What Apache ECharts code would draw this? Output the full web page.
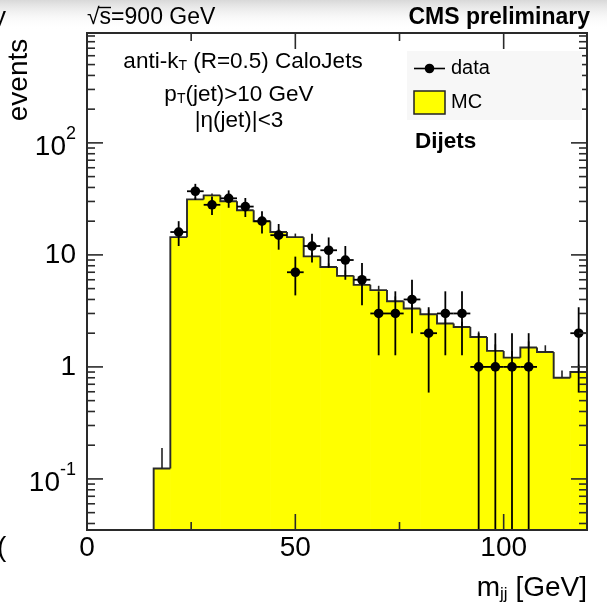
<!DOCTYPE html>
<html>
<head>
<meta charset="utf-8">
<script src="https://cdn.jsdelivr.net/npm/echarts@6/dist/echarts.min.js"></script>
<style>
  html, body { margin: 0; padding: 0; background: #fff; }
  #chart { width: 607px; height: 605px; }
</style>
</head>
<body>
<div id="chart"></div>
<script>
// Dijet invariant mass, 4 GeV bins (lower bin edges)
const binLow = [16, 20, 24, 28, 32, 36, 40, 44, 48, 52, 56, 60, 64, 68, 72, 76, 80, 84, 88, 92, 96, 100, 104, 108, 112, 116];
const BIN_WIDTH = 4;

// Simulation (MC) expectation per bin and its statistical uncertainty
const mcEvents = [0.124, 14.4, 31.3, 34.0, 30.1, 25.0, 19.9, 16.0, 14.4, 9.7, 7.8, 6.5, 5.4, 4.85, 3.86, 3.32, 2.95, 2.44, 2.27, 1.85, 1.39, 1.21, 1.49, 1.36, 0.80, 0.90];
const mcErrors = [0.065, 0.9, 1.3, 1.4, 1.3, 1.2, 1.0, 0.9, 1.1, 0.7, 0.6, 0.8, 0.5, 0.45, 0.4, 0.35, 0.3, 0.28, 0.26, 0.22, 0.2, 0.18, 0.2, 0.2, 0.13, 0.15];

// Observed events per bin and their errors
const dataEvents = [0, 16, 37, 28, 32, 27, 20, 15, 7, 12, 11, 9, 6, 3, 3, 4, 2, 3, 3, 1, 1, 1, 1, 0, 0, 2];
const dataErrors = [0, 4.0, 6.08, 5.29, 5.66, 5.2, 4.47, 3.87, 2.65, 3.46, 3.32, 3.0, 2.45, 1.73, 1.73, 2.0, 1.41, 1.73, 1.73, 1.0, 1.0, 1.0, 1.0, 0, 0, 1.41];

// Axis ranges and ticks
const X_MIN = 0, X_MAX = 120;
const Y_MIN = 0.035, Y_MAX = 957;
const xLabels = [0, 50, 100];
const xMinorTicks = [25, 75];
const yDecades = [0.1, 1, 10, 100];

const FONT = '"Liberation Sans", Arial, Helvetica, sans-serif';
const INK = '#000';
const FRAME = '#2a2a2a';

// log-axis minor ticks at 2..9 x 10^n
const yMinorTicks = [];
[0.01, 0.1, 1, 10, 100].forEach(d => {
  for (let k = 2; k <= 9; k++) {
    const v = +(k * d).toPrecision(3);
    if (v > Y_MIN && v < Y_MAX) yMinorTicks.push(v);
  }
});

const histItems = binLow.map((lo, i) => [lo, mcEvents[i], lo + BIN_WIDTH, i > 0 ? mcEvents[i - 1] : Y_MIN]);
const mcErrItems = binLow.map((lo, i) => [lo + BIN_WIDTH / 2, mcEvents[i], mcErrors[i]]);
const dataItems = binLow
  .map((lo, i) => [lo + BIN_WIDTH / 2, dataEvents[i], dataErrors[i]])
  .filter(d => d[1] > 0);

const tickItems = [[X_MIN, Y_MIN, 2, 0]];
xLabels.forEach(v => { if (v > X_MIN) tickItems.push([v, Y_MIN, 0, 16]); });
xMinorTicks.forEach(v => tickItems.push([v, Y_MIN, 0, 8]));
yDecades.forEach(v => tickItems.push([X_MIN, v, 1, 16]));
yMinorTicks.forEach(v => tickItems.push([X_MIN, v, 1, 8]));

function yLabel(value) {
  const lg = Math.log10(value);
  const e = Math.round(lg);
  if (Math.abs(lg - e) > 1e-6) return '';
  if (e === 0) return '1';
  if (e === 1) return '10';
  return '{b|10}{s|' + e + '}';
}

const chart = echarts.init(document.getElementById('chart'), null, { renderer: 'canvas' });

const textRich = {
  a: { fontSize: 22.5, fontFamily: FONT, fill: INK, verticalAlign: 'middle' },
  s: { fontSize: 14, fontFamily: FONT, fill: INK, padding: [9, 0, 0, 0], verticalAlign: 'middle' }
};

chart.setOption({
  backgroundColor: '#fff',
  animation: false,
  grid: { left: 87, top: 33, width: 500, height: 497, show: false },
  xAxis: {
    type: 'value', min: X_MIN, max: X_MAX, interval: 50,
    axisLine: { show: false }, axisTick: { show: false }, splitLine: { show: false },
    axisLabel: {
      margin: 4, fontSize: 28, fontFamily: FONT, color: INK,
      formatter: v => (xLabels.indexOf(v) >= 0 ? String(v) : '')
    }
  },
  yAxis: {
    type: 'log', logBase: 10, min: Y_MIN, max: Y_MAX,
    axisLine: { show: false }, axisTick: { show: false }, splitLine: { show: false },
    axisLabel: {
      margin: 11, fontSize: 28, fontFamily: FONT, color: INK,
      formatter: yLabel,
      rich: {
        b: { fontSize: 28, fontFamily: FONT, color: INK, padding: [8, 0, 0, 0], verticalAlign: 'middle' },
        s: { fontSize: 18, fontFamily: FONT, color: INK, padding: [0, 0, 18, 0], verticalAlign: 'middle' }
      }
    }
  },
  series: [
    {
      // MC histogram fill
      type: 'custom', name: 'MC', z: 2, data: histItems, encode: { x: 0, y: 1 },
      renderItem(params, api) {
        const p0 = api.coord([api.value(0), api.value(1)]);
        const p1 = api.coord([api.value(2), Y_MIN]);
        return {
          type: 'rect',
          shape: { x: p0[0], y: p0[1], width: p1[0] - p0[0] + 0.6, height: p1[1] - p0[1] },
          style: { fill: '#ffff00' }
        };
      }
    },
    {
      // MC histogram outline
      type: 'custom', name: 'MC outline', z: 3, data: histItems, encode: { x: 0, y: 1 },
      renderItem(params, api) {
        const p0 = api.coord([api.value(0), api.value(1)]);
        const p1 = api.coord([api.value(2), api.value(1)]);
        const pp = api.coord([api.value(0), api.value(3)]);
        return {
          type: 'polyline',
          shape: { points: [pp, p0, p1] },
          style: { stroke: '#2a2a2a', lineWidth: 1.9, fill: null }
        };
      }
    },
    {
      // MC statistical uncertainty (upper half, the lower half sits inside the fill)
      type: 'custom', name: 'MC stat', z: 3, data: mcErrItems, encode: { x: 0, y: 1 },
      renderItem(params, api) {
        const x = api.value(0), v = api.value(1), e = api.value(2);
        const a = api.coord([x, v]), b = api.coord([x, v + e]);
        return {
          type: 'line',
          shape: { x1: a[0], y1: a[1], x2: b[0], y2: b[1] },
          style: { stroke: '#222', lineWidth: 1.6 }
        };
      }
    },
    {
      // data points with error bars
      type: 'custom', name: 'data', z: 4, data: dataItems, encode: { x: 0, y: 1 },
      renderItem(params, api) {
        const x = api.value(0), n = api.value(1), e = api.value(2);
        const c = api.coord([x, n]);
        const top = api.coord([x, n + e]);
        const bot = api.coord([x, Math.max(n - e, Y_MIN)]);
        const l = api.coord([x - BIN_WIDTH / 2, n]);
        const r = api.coord([x + BIN_WIDTH / 2, n]);
        const st = { stroke: '#000', lineWidth: 1.8 };
        return {
          type: 'group',
          children: [
            { type: 'line', shape: { x1: c[0], y1: top[1], x2: c[0], y2: bot[1] }, style: st },
            { type: 'line', shape: { x1: l[0], y1: c[1], x2: r[0], y2: c[1] }, style: st },
            { type: 'circle', shape: { cx: c[0], cy: c[1], r: 4.8 }, style: { fill: '#000' } }
          ]
        };
      }
    },
    {
      // frame and inward ticks on all four sides
      type: 'custom', name: 'frame', z: 6, data: tickItems, encode: { x: 0, y: 1 },
      renderItem(params, api) {
        const kind = api.value(2), len = api.value(3);
        const lb = api.coord([X_MIN, Y_MIN]);
        const rt = api.coord([X_MAX, Y_MAX]);
        const st = { stroke: FRAME, lineWidth: 1.6 };
        if (kind === 2) {
          return {
            type: 'rect',
            shape: { x: lb[0], y: rt[1], width: rt[0] - lb[0], height: lb[1] - rt[1] },
            style: { stroke: FRAME, lineWidth: 2, fill: null }
          };
        }
        if (kind === 0) {
          const px = api.coord([api.value(0), Y_MIN])[0];
          return {
            type: 'group',
            children: [
              { type: 'line', shape: { x1: px, y1: lb[1], x2: px, y2: lb[1] - len }, style: st },
              { type: 'line', shape: { x1: px, y1: rt[1], x2: px, y2: rt[1] + len }, style: st }
            ]
          };
        }
        const py = api.coord([X_MIN, api.value(1)])[1];
        return {
          type: 'group',
          children: [
            { type: 'line', shape: { x1: lb[0], y1: py, x2: lb[0] + len, y2: py }, style: st },
            { type: 'line', shape: { x1: rt[0], y1: py, x2: rt[0] - len, y2: py }, style: st }
          ]
        };
      }
    }
  ],
  graphic: [
    {
      type: 'rect', z: -1, silent: true,
      shape: { x: 0, y: 0, width: 607, height: 30 },
      style: {
        fill: {
          type: 'linear', x: 0, y: 0, x2: 0, y2: 1,
          colorStops: [
            { offset: 0, color: 'rgba(185,185,185,0.55)' },
            { offset: 1, color: 'rgba(255,255,255,0)' }
          ]
        }
      }
    },
    { type: 'text', x: -7, y: 18, style: { text: 'y', fontSize: 26, fontFamily: FONT, fill: INK, align: 'left', verticalAlign: 'middle' } },
    { type: 'text', x: -3, y: 548, style: { text: '(', fontSize: 28, fontFamily: FONT, fill: INK, align: 'left', verticalAlign: 'middle' } },

    // header
    { type: 'text', x: 87, y: 18, style: { text: '√s=900 GeV', fontSize: 23, fontFamily: FONT, fill: INK, align: 'left', verticalAlign: 'middle' } },
    { type: 'line', shape: { x1: 99, y1: 7.5, x2: 111, y2: 7.5 }, style: { stroke: INK, lineWidth: 1.4 } },
    { type: 'text', x: 590, y: 18, style: { text: 'CMS preliminary', fontSize: 23, fontWeight: 'bold', fontFamily: FONT, fill: INK, align: 'right', verticalAlign: 'middle' } },

    // selection text
    { type: 'text', x: 243, y: 62, z: 10, style: { text: '{a|anti-k}{s|T}{a| (R=0.5) CaloJets}', align: 'center', verticalAlign: 'middle', rich: textRich } },
    { type: 'text', x: 239, y: 94.5, z: 10, style: { text: '{a|p}{s|T}{a|(jet)>10 GeV}', align: 'center', verticalAlign: 'middle', rich: textRich } },
    { type: 'text', x: 239, y: 121, z: 10, style: { text: '|η(jet)|<3', fontSize: 22.5, fontFamily: FONT, fill: INK, align: 'center', verticalAlign: 'middle' } },

    // legend
    { type: 'rect', z: 10, shape: { x: 407, y: 51, width: 175, height: 69 }, style: { fill: '#f7f7f7' } },
    { type: 'line', z: 11, shape: { x1: 414, y1: 68.5, x2: 445, y2: 68.5 }, style: { stroke: '#000', lineWidth: 1.6 } },
    { type: 'circle', z: 11, shape: { cx: 429.5, cy: 68.5, r: 4.8 }, style: { fill: '#000' } },
    { type: 'text', z: 11, x: 451, y: 68.5, style: { text: 'data', fontSize: 20, fontFamily: FONT, fill: INK, align: 'left', verticalAlign: 'middle' } },
    { type: 'rect', z: 11, shape: { x: 414, y: 91, width: 31, height: 23 }, style: { fill: '#ffff00', stroke: '#222', lineWidth: 1.5 } },
    { type: 'text', z: 11, x: 451, y: 102.5, style: { text: 'MC', fontSize: 20, fontFamily: FONT, fill: INK, align: 'left', verticalAlign: 'middle' } },
    { type: 'text', z: 11, x: 415, y: 141.5, style: { text: 'Dijets', fontSize: 22.5, fontWeight: 'bold', fontFamily: FONT, fill: INK, align: 'left', verticalAlign: 'middle' } },

    // axis titles
    { type: 'text', x: 19, y: 80, rotation: Math.PI / 2, style: { text: 'events', fontSize: 28, fontFamily: FONT, fill: INK, align: 'center', verticalAlign: 'middle' } },
    {
      type: 'text', x: 587, y: 588,
      style: {
        text: '{m|m}{s|jj}{m| [GeV]}', align: 'right', verticalAlign: 'middle',
        rich: {
          m: { fontSize: 28, fontFamily: FONT, fill: INK, verticalAlign: 'middle' },
          s: { fontSize: 17, fontFamily: FONT, fill: INK, padding: [12, 0, 0, 0], verticalAlign: 'middle' }
        }
      }
    }
  ]
});
</script>
</body>
</html>
